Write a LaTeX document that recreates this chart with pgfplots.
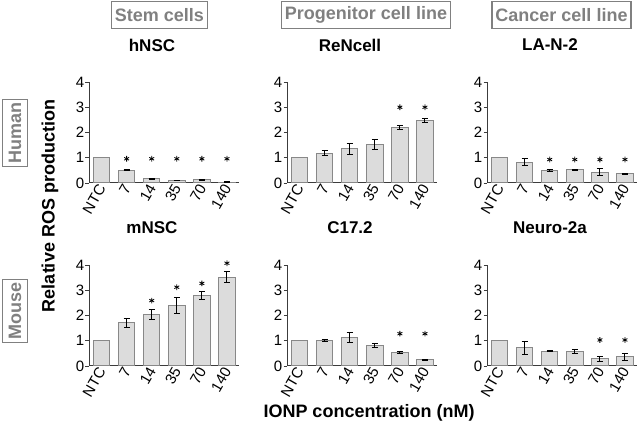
\documentclass[border=0pt]{standalone}
\usepackage{fontspec}
\setmainfont{Liberation Sans}
\usepackage{pgfplots}
\pgfplotsset{compat=1.18}

\definecolor{hdrgray}{HTML}{808080}
\definecolor{bargray}{HTML}{888888}
\definecolor{barfill}{HTML}{DCDCDC}
\definecolor{axgray}{HTML}{3C3C3C}

\pgfplotsset{
  panel/.style={
    width=150pt, height=101pt, scale only axis, clip=false,
    xmin=-0.5, xmax=5.48, ymin=0, ymax=4,
    axis x line=bottom, axis y line=left,
    axis line style={-, draw=axgray, line width=1pt},
    xtick={0,...,5}, xticklabels={NTC,7,14,35,70,140},
    ytick={0,1,2,3,4},
    tick align=outside,
    x tick style={draw=none},
    y tick style={draw=axgray, line width=0.9pt},
    major tick length=3.5pt,
    tick label style={font=\fontsize{15}{17}\selectfont},
    /pgf/number format/assume math mode=true,
    x tick label style={rotate=60, anchor=east, inner sep=1pt, xshift=2pt},
    y tick label style={inner sep=1pt},
    title style={font=\fontsize{17}{19}\selectfont\bfseries, at={(0.42,1)}, anchor=center, yshift=31pt},
  },
  bars/.style={ybar, bar width=16.5pt, bar shift=0pt, fill=barfill, draw=bargray, line width=1pt},
  errs/.style={error bars/.cd, y dir=both, y explicit,
    error bar style={black, line width=1pt},
    error mark options={rotate=90, mark size=3pt, black, line width=1pt}},
  stars/.style={only marks, mark=asterisk, mark size=2.8pt, mark options={black, line width=0.8pt}},
}

\begin{document}
\begin{tikzpicture}
\useasboundingbox (0,0) rectangle (638pt,431pt);

% headers
\tikzset{hdr/.style={draw=hdrgray, line width=1.2pt, text=hdrgray, font=\fontsize{18}{20}\selectfont\bfseries, inner xsep=3.5pt, minimum height=27pt}}
\node[hdr] at (159.5pt,416pt) {Stem cells};
\node[hdr] at (366pt,416pt) {Progenitor cell line};
\node[hdr] at (561.5pt,416pt) {Cancer cell line};
\node[hdr, rotate=90, minimum height=25pt, inner xsep=3pt] at (15pt,298pt) {Human};
\node[hdr, rotate=90, minimum height=25pt, inner xsep=3pt] at (15pt,120pt) {Mouse};

\node[rotate=90, font=\fontsize{18}{20}\selectfont\bfseries] at (50pt,225pt) {Relative ROS production};
\node[font=\fontsize{18}{20}\selectfont\bfseries] at (369pt,18pt) {IONP concentration (nM)};

% row 1
\begin{axis}[panel, at={(89pt,248pt)}, anchor=south west, title={hNSC}]
\addplot[bars] coordinates {(0,1)};
\addplot[bars, errs] coordinates {(1,0.50) +- (0,0.02) (2,0.16) +- (0,0.03) (3,0.10) +- (0,0.01) (4,0.13) +- (0,0.02) (5,0.03) +- (0,0.01)};
\addplot[stars] coordinates {(1,0.96) (2,0.96) (3,0.96) (4,0.96) (5,0.96)};
\end{axis}

\begin{axis}[panel, at={(287pt,248pt)}, anchor=south west, title={ReNcell}]
\addplot[bars] coordinates {(0,1)};
\addplot[bars, errs] coordinates {(1,1.18) +- (0,0.11) (2,1.35) +- (0,0.23) (3,1.51) +- (0,0.20) (4,2.20) +- (0,0.07) (5,2.47) +- (0,0.07)};
\addplot[stars] coordinates {(4,3.0) (5,3.0)};
\end{axis}

\begin{axis}[panel, at={(487pt,248pt)}, anchor=south west, title={LA-N-2}]
\addplot[bars] coordinates {(0,1)};
\addplot[bars, errs] coordinates {(1,0.83) +- (0,0.15) (2,0.49) +- (0,0.04) (3,0.52) +- (0,0.02) (4,0.43) +- (0,0.13) (5,0.37) +- (0,0.02)};
\addplot[stars] coordinates {(2,0.93) (3,0.93) (4,0.93) (5,0.93)};
\end{axis}

% row 2
\begin{axis}[panel, at={(89pt,65pt)}, anchor=south west, title={mNSC}]
\addplot[bars] coordinates {(0,1)};
\addplot[bars, errs] coordinates {(1,1.72) +- (0,0.18) (2,2.05) +- (0,0.20) (3,2.41) +- (0,0.32) (4,2.79) +- (0,0.15) (5,3.52) +- (0,0.23)};
\addplot[stars] coordinates {(2,2.59) (3,3.12) (4,3.27) (5,4.07)};
\end{axis}

\begin{axis}[panel, at={(287pt,65pt)}, anchor=south west, title={C17.2}]
\addplot[bars] coordinates {(0,1)};
\addplot[bars, errs] coordinates {(1,1.02) +- (0,0.03) (2,1.13) +- (0,0.20) (3,0.80) +- (0,0.08) (4,0.53) +- (0,0.03) (5,0.24) +- (0,0.02)};
\addplot[stars] coordinates {(4,1.28) (5,1.28)};
\end{axis}

\begin{axis}[panel, at={(487pt,65pt)}, anchor=south west, title={Neuro-2a}]
\addplot[bars] coordinates {(0,1)};
\addplot[bars, errs] coordinates {(1,0.72) +- (0,0.27) (2,0.59) +- (0,0.02) (3,0.59) +- (0,0.08) (4,0.28) +- (0,0.10) (5,0.36) +- (0,0.13)};
\addplot[stars] coordinates {(4,1.03) (5,1.03)};
\end{axis}
\end{tikzpicture}
\end{document}
